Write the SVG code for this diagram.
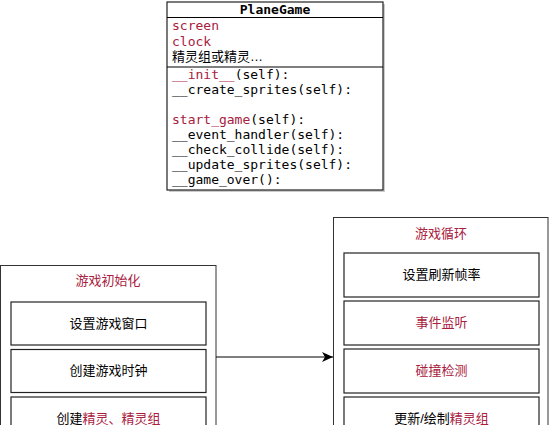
<svg xmlns="http://www.w3.org/2000/svg" width="550" height="425" viewBox="0 0 550 425">
<defs>
<marker id="arr" markerWidth="12" markerHeight="10" refX="11" refY="5" orient="auto" markerUnits="userSpaceOnUse">
<path d="M0,0 L11,5 L0,10 L3,5 Z" fill="#000"/>
</marker>
</defs>
<style>
.mono{font-family:"DejaVu Sans Mono","Liberation Mono",monospace;font-size:13px;fill:#000}
.cjk{font-family:"Liberation Sans","Noto Sans CJK SC",sans-serif;font-size:13px;fill:#000}
.red{fill:#a8203e}
.box{fill:#fff;stroke:#222;stroke-width:1.2}
.outer{fill:#fff;stroke:#333;stroke-width:1}
.line{stroke:#000;stroke-width:1.2}
</style>
<rect width="550" height="425" fill="#fff"/>
<g id="planegame">
<rect x="169" y="4" width="216" height="188" fill="#ccc"/>
<rect class="box" x="167" y="2" width="216" height="188"/>
<line class="line" x1="167" y1="17.5" x2="383" y2="17.5"/>
<line class="line" x1="167" y1="67" x2="383" y2="67"/>
<text class="mono" x="275" y="14" text-anchor="middle" font-weight="bold">PlaneGame</text>
<text class="mono red" x="172" y="30">screen</text>
<text class="mono red" x="172" y="45.5">clock</text>
<text class="cjk" x="172" y="61">精灵组或精灵…</text>
<text class="mono" x="172" y="79"><tspan class="red">__init__</tspan>(self):</text>
<text class="mono" x="172" y="94">__create_sprites(self):</text>
<text class="mono" x="172" y="124"><tspan class="red">start_game</tspan>(self):</text>
<text class="mono" x="172" y="139">__event_handler(self):</text>
<text class="mono" x="172" y="154">__check_collide(self):</text>
<text class="mono" x="172" y="169">__update_sprites(self):</text>
<text class="mono" x="172" y="184">__game_over():</text>
</g>
<g id="init">
<rect class="outer" x="0.5" y="265.5" width="215.5" height="180"/>
<text class="cjk red" x="108" y="285" text-anchor="middle">游戏初始化</text>
<rect class="box" x="11" y="302" width="195" height="43"/>
<text class="cjk" x="108.5" y="328" text-anchor="middle">设置游戏窗口</text>
<rect class="box" x="11" y="349.5" width="195" height="43"/>
<text class="cjk" x="108.5" y="375" text-anchor="middle">创建游戏时钟</text>
<rect class="box" x="11" y="397" width="195" height="43"/>
<text class="cjk" x="108.5" y="423" text-anchor="middle">创建<tspan class="red">精灵、精灵组</tspan></text>
</g>
<g id="loop">
<rect class="outer" x="333.5" y="217.5" width="214.5" height="230"/>
<text class="cjk red" x="441" y="238" text-anchor="middle">游戏循环</text>
<rect class="box" x="344" y="253" width="195" height="44"/>
<text class="cjk" x="441.5" y="279" text-anchor="middle">设置刷新帧率</text>
<rect class="box" x="344" y="301" width="195" height="44"/>
<text class="cjk red" x="441.5" y="327" text-anchor="middle">事件监听</text>
<rect class="box" x="344" y="349" width="195" height="44"/>
<text class="cjk red" x="441.5" y="375" text-anchor="middle">碰撞检测</text>
<rect class="box" x="344" y="397" width="195" height="44"/>
<text class="cjk" x="441.5" y="423" text-anchor="middle">更新/绘制<tspan class="red">精灵组</tspan></text>
</g>
<g id="connectors">
<line x1="216" y1="357" x2="333" y2="357" stroke="#000" stroke-width="1.2" marker-end="url(#arr)"/>
</g>
</svg>
